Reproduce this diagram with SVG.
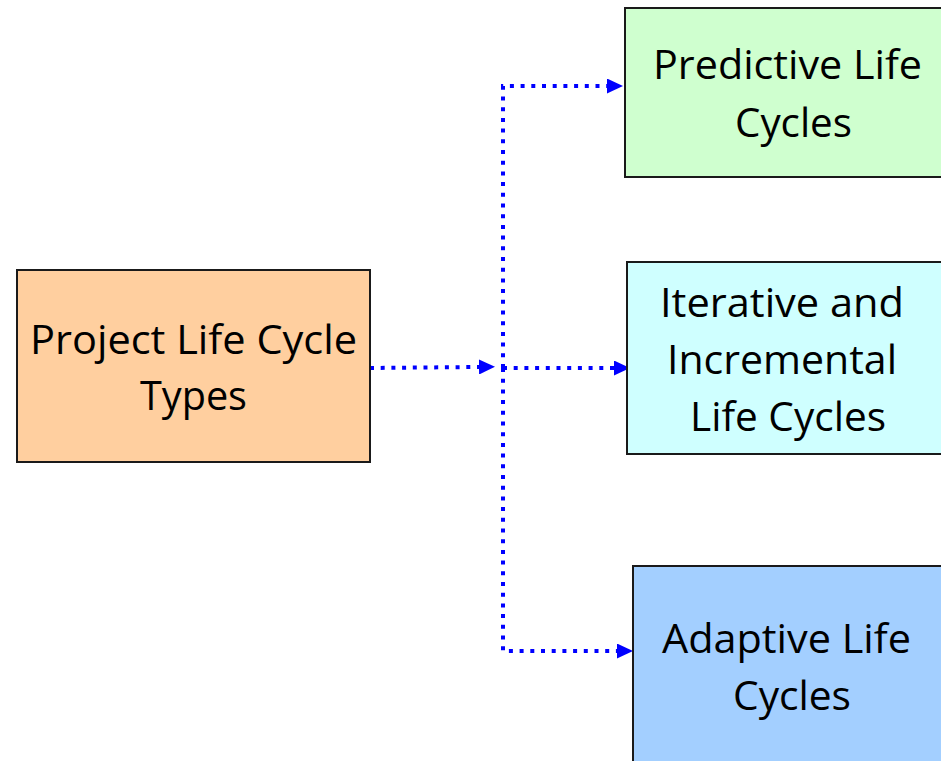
<svg xmlns="http://www.w3.org/2000/svg" width="941" height="761" viewBox="0 0 941 761">
<defs>
<style>
.box{stroke:#1a1a1a;stroke-width:2}
.lbl{font-family:"Open Sans","Noto Sans",sans-serif;font-size:40px;fill:#000;text-anchor:middle}
.con{fill:none;stroke:#0000FF;stroke-width:4;stroke-dasharray:4 6.7}
</style>
<marker id="ah" markerUnits="userSpaceOnUse" markerWidth="16" markerHeight="15" refX="0" refY="7.5" orient="auto">
<path d="M0,0 L16,7.5 L0,15 z" fill="#0000FF"/>
</marker>
</defs>
<rect width="941" height="761" fill="#fff"/>
<g id="connectors">
<path class="con" d="M370,368 L479,367" marker-end="url(#ah)"/>
<path class="con" d="M503,368 V86 H607" marker-end="url(#ah)"/>
<path class="con" d="M503,368 H614" marker-end="url(#ah)"/>
<path class="con" d="M503,368 V651 H617" marker-end="url(#ah)"/>
</g>
<g id="node-types">
<rect class="box" x="17" y="270" width="353" height="192" fill="#FFCF9F"/>
<text class="lbl" x="193.5" y="354" textLength="327" lengthAdjust="spacingAndGlyphs">Project Life Cycle</text>
<text class="lbl" x="193.5" y="410" textLength="107" lengthAdjust="spacingAndGlyphs">Types</text>
</g>
<g id="node-predictive">
<rect class="box" x="625" y="8" width="330" height="169" fill="#CFFFCF"/>
<text class="lbl" x="787.5" y="79" textLength="269" lengthAdjust="spacingAndGlyphs">Predictive Life</text>
<text class="lbl" x="793.5" y="137" textLength="117" lengthAdjust="spacingAndGlyphs">Cycles</text>
</g>
<g id="node-iterative">
<rect class="box" x="627" y="262" width="330" height="192" fill="#CFFFFF"/>
<text class="lbl" x="782" y="317" textLength="244" lengthAdjust="spacingAndGlyphs">Iterative and</text>
<text class="lbl" x="782" y="374" textLength="230" lengthAdjust="spacingAndGlyphs">Incremental</text>
<text class="lbl" x="788" y="431" textLength="196" lengthAdjust="spacingAndGlyphs">Life Cycles</text>
</g>
<g id="node-adaptive">
<rect class="box" x="633" y="566" width="330" height="210" fill="#A3CFFF"/>
<text class="lbl" x="786.5" y="653" textLength="249" lengthAdjust="spacingAndGlyphs">Adaptive Life</text>
<text class="lbl" x="792" y="710" textLength="118" lengthAdjust="spacingAndGlyphs">Cycles</text>
</g>
</svg>
